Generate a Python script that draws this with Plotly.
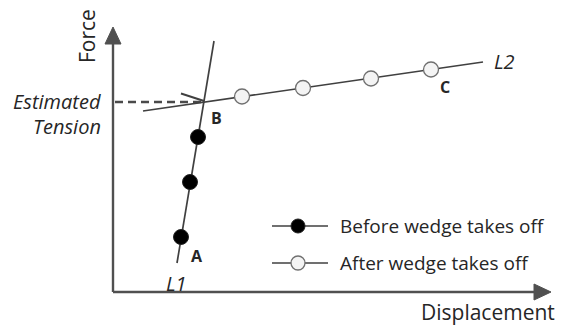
import plotly.graph_objects as go

# ---- schematic data (diagram units, origin top-left) ----
l1_x = [214, 177]
l1_y = [41, 263]
l2_x = [143, 483]
l2_y = [111, 62]
before_x = [198, 190, 181]
before_y = [137, 182, 237]
after_x = [242, 303, 371, 431]
after_y = [96.5, 88, 78.5, 69.5]
tension_x = [115, 201]
tension_y = [102, 102]
arrow_barb_x = [181, 204]
arrow_barb_y = [93.5, 101]
yaxis_x = [113, 113]
yaxis_y = [292, 40]
xaxis_x = [113, 537]
xaxis_y = [292, 292]
ytip_x = [113, 105, 121, 113]
ytip_y = [27, 44, 44, 27]
xtip_x = [551, 534, 534, 551]
xtip_y = [292, 284, 300, 292]
legend_line_x = [272, 328]
legend_marker_x = [298]
legend_y = [226, 263]
legend_labels = ["Before wedge takes off", "After wedge takes off"]

LINE = "#404040"
AXIS = "#505050"
TEXT = "#262626"
FONT = "Open Sans"
PAGE_OFFSET = 8  # default page margin of the html body

fig = go.Figure()

def line(x, y, color=LINE, width=1.6, dash="solid"):
    fig.add_trace(go.Scatter(x=x, y=y, mode="lines", hoverinfo="skip",
                             line=dict(color=color, width=width, dash=dash)))

# axes
line(yaxis_x, yaxis_y, AXIS, 2.4)
line(xaxis_x, xaxis_y, AXIS, 2.4)
for tx, ty in [(ytip_x, ytip_y), (xtip_x, xtip_y)]:
    fig.add_trace(go.Scatter(x=tx, y=ty, mode="lines", fill="toself",
                             fillcolor=AXIS, line=dict(color=AXIS, width=1),
                             hoverinfo="skip"))

# dashed estimated tension arrow
line(tension_x, tension_y, "#4a4a4a", 2.6, "8px,5px")
line(arrow_barb_x, arrow_barb_y, LINE, 2.0)

# L1, L2
line(l1_x, l1_y, LINE, 1.7)
line(l2_x, l2_y, LINE, 1.7)

# points
fig.add_trace(go.Scatter(x=before_x, y=before_y, mode="markers", hoverinfo="skip",
                         marker=dict(size=15, color="black",
                                     line=dict(color="#222222", width=1))))
fig.add_trace(go.Scatter(x=after_x, y=after_y, mode="markers", hoverinfo="skip",
                         marker=dict(size=15, color="#f4f4f4",
                                     line=dict(color="#707070", width=1.3))))

# legend (drawn manually)
for i, ly in enumerate(legend_y):
    line(legend_line_x, [ly, ly], LINE, 1.7)
    if i == 0:
        mk = dict(size=14, color="black", line=dict(color="#222222", width=1))
    else:
        mk = dict(size=14, color="#f4f4f4", line=dict(color="#707070", width=1.3))
    fig.add_trace(go.Scatter(x=legend_marker_x, y=[ly], mode="markers",
                             hoverinfo="skip", marker=mk))
    fig.add_annotation(x=338, y=ly, text=legend_labels[i], showarrow=False,
                       xanchor="left", yanchor="middle",
                       font=dict(family=FONT, size=19, color=TEXT))

def label(x, y, text, size=19, xanchor="center", textangle=0, italic=False, bold=False):
    t = text
    if bold:
        t = "<b>" + t + "</b>"
    if italic:
        t = "<i>" + t + "</i>"
    fig.add_annotation(x=x, y=y, text=t, showarrow=False, xanchor=xanchor,
                       yanchor="middle", textangle=textangle,
                       font=dict(family=FONT, size=size, color=TEXT))

label(87, 36, "Force", size=21, textangle=-90)
label(488, 312, "Displacement", size=21)
label(103, 101, "Estimated", xanchor="right", italic=True, size=20)
label(103, 126, "Tension", xanchor="right", italic=True, size=20)
label(216, 118, "B", bold=True, size=16)
label(445, 87, "C", bold=True, size=16)
label(197, 256, "A", bold=True, size=16)
label(176, 283, "L1", italic=True, size=20)
label(504, 61, "L2", italic=True, size=20)

fig.update_layout(
    width=567 - PAGE_OFFSET, height=326 - PAGE_OFFSET,
    margin=dict(l=0, r=0, t=0, b=0),
    paper_bgcolor="white", plot_bgcolor="white", showlegend=False,
    xaxis=dict(range=[PAGE_OFFSET, 567], visible=False, fixedrange=True),
    yaxis=dict(range=[326, PAGE_OFFSET], visible=False, fixedrange=True),
)
fig.write_html("out.html")
